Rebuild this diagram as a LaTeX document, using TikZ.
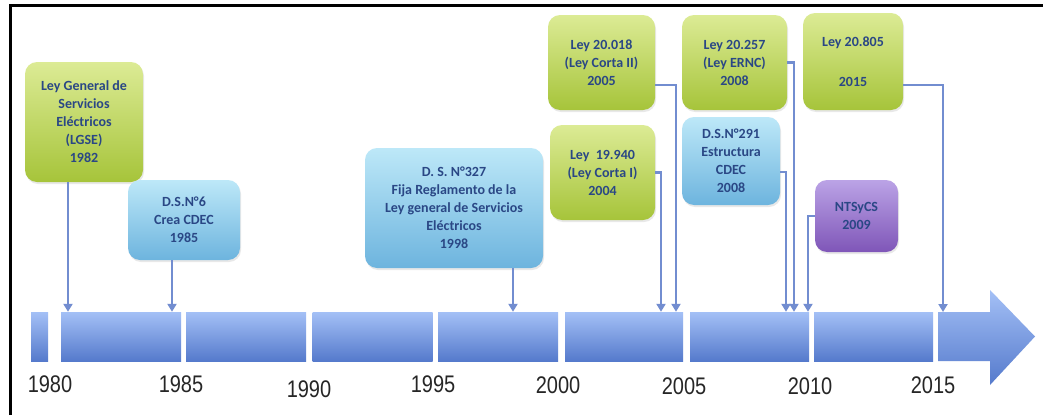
\documentclass[tikz,border=0pt]{standalone}
\usepackage{fontspec}
\setmainfont{Carlito}
\newfontfamily\yearfont{Liberation Sans}
\usetikzlibrary{arrows.meta,shadows}

\definecolor{txtblue}{HTML}{2A4785}
\definecolor{greentop}{HTML}{DCEB95}
\definecolor{greenbot}{HTML}{A6C43A}
\definecolor{bluetop}{HTML}{BDE8F8}
\definecolor{bluebot}{HTML}{6DB4DE}
\definecolor{purptop}{HTML}{BBA3E6}
\definecolor{purpbot}{HTML}{7F56B8}
\definecolor{bartop}{HTML}{A4C0F6}
\definecolor{barbot}{HTML}{557ACC}
\definecolor{conncol}{HTML}{728DD0}
\definecolor{yeargray}{HTML}{262626}

\tikzset{
  box/.style={rounded corners=12pt, inner sep=0pt, align=center, text=txtblue,
    font=\bfseries\fontsize{14}{18}\selectfont,
    drop shadow={opacity=0.18, shadow xshift=1pt, shadow yshift=-2pt}},
  greenbox/.style={box, top color=greentop, bottom color=greenbot},
  bluebox/.style={box, top color=bluetop, bottom color=bluebot},
  purplebox/.style={box, top color=purptop, bottom color=purpbot},
  bar/.style={inner sep=0pt, minimum height=49pt, top color=bartop, bottom color=barbot},
  conn/.style={draw=conncol, line width=2.1pt, -{Triangle[width=9pt,length=8pt]}},
  yearlabel/.style={inner sep=0pt, text=yeargray, font=\yearfont\fontsize{20}{24}\selectfont},
}

\begin{document}
\begin{tikzpicture}[x=1pt,y=-1pt]
\useasboundingbox (0,0) rectangle (1043,415);
\fill[white] (0,0) rectangle (1043,415);

% frame
\draw[line width=3pt] (10,415) -- (10,5) -- (1043,5);

% timeline bars
\node[bar, minimum width=17pt]  (b0) at (39.5,336.5) {};
\node[bar, minimum width=120pt] (b1) at (121,336.5) {};
\node[bar, minimum width=120pt] (b2) at (246,336.5) {};
\node[bar, minimum width=120pt] (b3) at (372.5,336.5) {};
\node[bar, minimum width=120pt] (b4) at (498,336.5) {};
\node[bar, minimum width=118pt] (b5) at (624,336.5) {};
\node[bar, minimum width=119pt] (b6) at (749.5,336.5) {};
\node[bar, minimum width=119pt] (b7) at (873.5,336.5) {};
\shade[top color=bartop, bottom color=barbot]
  (938,312) -- (990,312) -- (990,290) -- (1035,336.5) -- (990,385)
  -- (990,361) -- (938,361) -- cycle;
\coordinate (tip) at (938,312);

% year labels
\node[yearlabel] (y1980) at (50,384)  {\scalebox{1}[1.2]{1980}};
\node[yearlabel] (y1985) at (181,384) {\scalebox{1}[1.2]{1985}};
\node[yearlabel] (y1990) at (309,389) {\scalebox{1}[1.2]{1990}};
\node[yearlabel] (y1995) at (433,384) {\scalebox{1}[1.2]{1995}};
\node[yearlabel] (y2000) at (558,385) {\scalebox{1}[1.2]{2000}};
\node[yearlabel] (y2005) at (684,386) {\scalebox{1}[1.2]{2005}};
\node[yearlabel] (y2010) at (810,386) {\scalebox{1}[1.2]{2010}};
\node[yearlabel] (y2015) at (933,385) {\scalebox{1}[1.2]{2015}};

% regulation boxes
\node[greenbox, minimum width=118pt, minimum height=120pt] (lgse) at (84,122)
  {Ley General de\\Servicios\\Eléctricos\\(LGSE)\\1982};
\node[bluebox, minimum width=112pt, minimum height=80pt] (dsn6) at (184,220)
  {D.S.N°6\\Crea CDEC\\1985};
\node[bluebox, minimum width=178pt, minimum height=120pt] (dsn327) at (454,208)
  {D. S. N°327\\Fija Reglamento de la\\Ley general de Servicios\\Eléctricos\\1998};
\node[greenbox, minimum width=105pt, minimum height=95pt] (ley19940) at (602.5,172.5)
  {Ley\ \ 19.940\\(Ley Corta I)\\2004};
\node[greenbox, minimum width=107pt, minimum height=95pt] (ley20018) at (601.5,62.5)
  {Ley 20.018\\(Ley Corta II)\\2005};
\node[greenbox, minimum width=105pt, minimum height=95pt] (ley20257) at (734.5,62.5)
  {Ley 20.257\\(Ley ERNC)\\2008};
\node[bluebox, minimum width=98pt, minimum height=88pt] (dsn291) at (731,161)
  {D.S.N°291\\Estructura\\CDEC\\2008};
\node[purplebox, minimum width=83pt, minimum height=72pt] (ntsycs) at (856.5,216)
  {NTSyCS\\2009};
\node[greenbox, minimum width=100pt, minimum height=97pt] (ley20805) at (853,61.5)
  {Ley 20.805\\[22pt]2015};

% connectors to the timeline
\draw[conn] (68,0 |- lgse.south) -- (68,0 |- b1.north);
\draw[conn] (172,0 |- dsn6.south) -- (172,0 |- b1.north);
\draw[conn] (513,0 |- dsn327.south) -- (513,0 |- b4.north);
\draw[conn] (ley19940.east) -| (661,0 |- b5.north);
\draw[conn] (ley20018.east |- 0,85) -| (676,0 |- b5.north);
\draw[conn] (dsn291.east |- 0,172) -| (786,0 |- b6.north);
\draw[conn] (ley20257.east) -| (794,0 |- b6.north);
\draw[conn] (ntsycs.west) -| (808,0 |- b6.north);
\draw[conn] (ley20805.east |- 0,85) -| (943,0 |- tip);
\end{tikzpicture}
\end{document}
